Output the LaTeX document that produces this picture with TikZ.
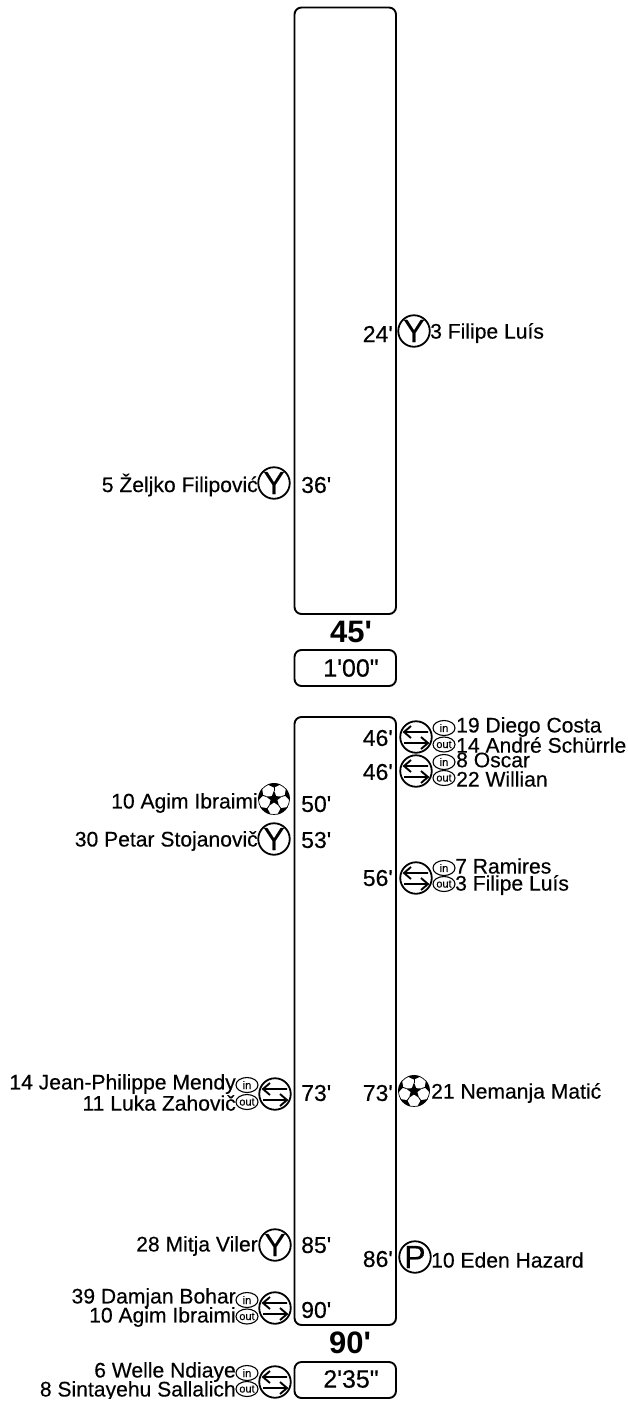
\documentclass[tikz,border=0pt]{standalone}
\usepackage{fontspec}
\usetikzlibrary{shapes.geometric}
\setmainfont[FakeBold=0.35,Ligatures=TeXOff]{Liberation Sans}
\newfontfamily\boldf[Ligatures=TeXOff]{Liberation Sans}
\tikzset{
  x=1pt,y=-1pt,
  box/.style={line width=1.9pt,rounded corners=7pt},
  txt/.style={inner sep=0pt,font=\fontsize{21.1}{21.1}\selectfont},
  tl/.style={txt,anchor=west},
  tr/.style={txt,anchor=east},
  ml/.style={inner sep=0pt,anchor=west,font=\fontsize{23}{23}\selectfont},
  mr/.style={inner sep=0pt,anchor=east,font=\fontsize{23}{23}\selectfont},
  big/.style={inner sep=0pt,font=\boldf\bfseries\fontsize{31}{31}\selectfont},
  dur/.style={inner sep=0pt,font=\fontsize{25}{25}\selectfont},
  ring/.style={circle,draw,line width=1.8pt,minimum size=31.5pt,inner sep=0pt,font=\fontsize{32}{32}\selectfont},
  oval/.style={ellipse,draw,line width=1.1pt,minimum width=22pt,minimum height=15pt,inner sep=0pt,font=\fontsize{11}{11}\selectfont},
  arr/.style={line width=1.9pt},
  pics/sub/.style={code={
    \node[ring] at (0,0) {};
    \draw[arr] (12,-5) -- (-12,-5) (-5,-11) -- (-12,-5) -- (-5,1);
    \draw[arr] (-12,6) -- (12,6) (5,0) -- (12,6) -- (5,12);
  }},
  pics/ball/.style={code={
    \fill (0,-8.5) -- (2.2,-2.8) -- (8.1,-2.6) -- (3.4,1) -- (5,6.9) -- (0,3.4) -- (-5,6.9) -- (-3.4,1) -- (-8.1,-2.6) -- (-2.2,-2.8) -- cycle;
    \foreach \a in {-90,-18,54,126,198}{
      \fill (\a-24:16) arc[start angle=\a-24,end angle=\a+24,radius=16] -- (\a+12:13) -- (\a:11.5) -- (\a-12:13) -- cycle;
      \draw[line width=.9pt] (\a:8) -- (\a:12);
    }
    \foreach \a in {-54,18,90,162,234}{
      \draw[line width=.7pt] (\a-14:15.5) arc[start angle=\a-14,end angle=\a+14,radius=15.5];
    }
  }}
}
\begin{document}
\begin{tikzpicture}
\useasboundingbox (0,0) rectangle (627,1401);
\clip (0,0) rectangle (627,1398);
% boxes
\draw[box] (294.5,7.5) rectangle (396,614);
\draw[box] (294.5,650) rectangle (396,686);
\draw[box] (294.5,717) rectangle (396,1325);
\draw[box] (294.5,1362) rectangle (396,1398);
\node[big] (ht) at (351,632) {45'};
\node[dur] (htd) at (351,668) {1'00"};
\node[big] (ft) at (350,1343) {90'};
\node[dur] (ftd) at (351,1379) {2'35"};
% first half
\node[mr] (m24) at (393,334) {24'};
\node[ring] (y24) at (414,331) {Y};
\node[tl] (n24) at (430,333) {3 Filipe Luís};
\node[ml] (m36) at (301,485) {36'};
\node[ring] (y36) at (274,483) {Y};
\node[tr] (n36) at (258,485) {5 Željko Filipović};
% right second half
\node[mr] (m46a) at (393,738) {46'};
\pic at (416,737) {sub};
\node[oval] (ia) at (444,728) {in};
\node[oval] (oa) at (444,744.5) {out};
\node[tl] (na1) at (456,727) {19 Diego Costa};
\node[tl] (na2) at (456,745) {14 André Schürrle};
\node[mr] (m46b) at (393,772) {46'};
\pic at (416,771) {sub};
\node[oval] (ib) at (444,762) {in};
\node[oval] (ob) at (444,778) {out};
\node[tl] (nb1) at (456,760) {8 Oscar};
\node[tl] (nb2) at (456,779) {22 Willian};
\node[mr] (m56) at (393,878) {56'};
\pic at (416,878) {sub};
\node[oval] (ic) at (444,868) {in};
\node[oval] (oc) at (444,884) {out};
\node[tl] (nc1) at (455,866) {7 Ramires};
\node[tl] (nc2) at (455,885) {3 Filipe Luís};
\node[mr] (m73r) at (393,1093) {73'};
\pic at (414,1091) {ball};
\node[tl] (n73r) at (431,1093) {21 Nemanja Matić};
\node[mr] (m86) at (393,1259) {86'};
\node[ring] (p86) at (415,1257) {P};
\node[tl] (n86) at (431,1260) {10 Eden Hazard};
% left second half
\pic at (274,799) {ball};
\node[tr] (n50) at (258,803) {10 Agim Ibraimi};
\node[ml] (m50) at (301,804) {50'};
\node[ring] (y53) at (274,839) {Y};
\node[tr] (n53) at (258,841) {30 Petar Stojanovič};
\node[ml] (m53) at (301,840) {53'};
\pic at (275,1094) {sub};
\node[oval] (id) at (247,1085) {in};
\node[oval] (od) at (247,1102) {out};
\node[tr] (nd1) at (236,1084) {14 Jean-Philippe Mendy};
\node[tr] (nd2) at (236,1103) {11 Luka Zahovič};
\node[ml] (m73l) at (301,1093) {73'};
\node[ring] (y85) at (275,1245) {Y};
\node[tr] (n85) at (258,1246) {28 Mitja Viler};
\node[ml] (m85) at (301,1245) {85'};
\pic at (275,1308) {sub};
\node[oval] (ie) at (247,1300) {in};
\node[oval] (oe) at (247,1316.5) {out};
\node[tr] (ne1) at (236,1298) {39 Damjan Bohar};
\node[tr] (ne2) at (236,1317) {10 Agim Ibraimi};
\node[ml] (m90) at (301,1310) {90'};
\pic at (275,1382) {sub};
\node[oval] (if) at (247,1373) {in};
\node[oval] (of) at (247,1389) {out};
\node[tr] (nf1) at (236,1372) {6 Welle Ndiaye};
\node[tr] (nf2) at (236,1391) {8 Sintayehu Sallalich};
\end{tikzpicture}
\end{document}
